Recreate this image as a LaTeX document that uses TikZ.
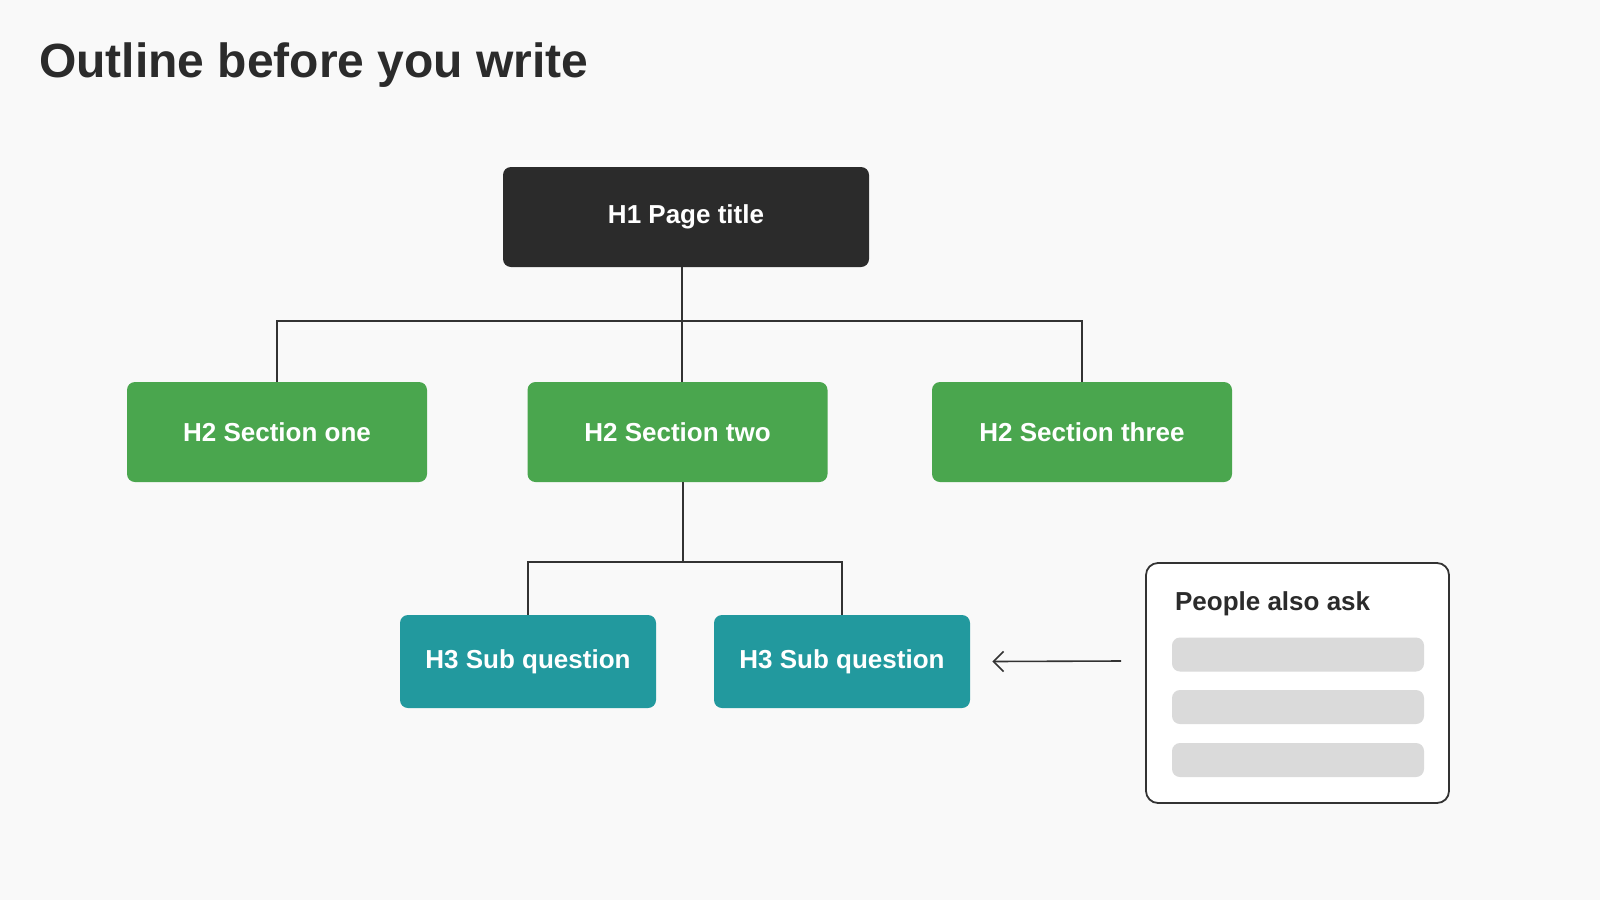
\documentclass[tikz,border=0pt]{standalone}
\usepackage{fontspec}
\setmainfont{Liberation Sans}
\usetikzlibrary{arrows.meta,positioning}
\definecolor{bgcol}{HTML}{F9F9F9}
\definecolor{darkbox}{HTML}{2B2B2B}
\definecolor{greenbox}{HTML}{4AA64E}
\definecolor{tealbox}{HTML}{22999E}
\definecolor{barcol}{HTML}{DADADA}
\definecolor{linecol}{HTML}{333333}
\tikzset{>={Straight Barb[length=5pt,width=10pt]},
  box/.style={rounded corners=4pt, text=white, font=\bfseries\fontsize{13}{16}\selectfont, inner sep=0pt},
  h2/.style={box, fill=greenbox, minimum width=150pt, minimum height=50pt},
  h3/.style={box, fill=tealbox, minimum width=128pt, minimum height=46.5pt},
  conn/.style={draw=linecol, line width=0.8pt},
  bar/.style={fill=barcol, rounded corners=4pt, minimum width=126pt, minimum height=17pt, inner sep=0pt}
}
\begin{document}
\begin{tikzpicture}[x=0.5pt, y=-0.5pt]
		\fill[bgcol] (0,0) rectangle (1600,900);
		\useasboundingbox (0,0) rectangle (1600,900);
		\node[anchor=west, text=darkbox, font=\bfseries\fontsize{24}{28}\selectfont] (title) at (32,65) {Outline before you write};

		\node[box, fill=darkbox, minimum width=183pt, minimum height=50pt] (h1) at (686,217) {H1 Page title};

		\node[h2] (sec-one)   at (277,432)  {H2 Section one};
		\node[h2] (sec-two)   at (677.5,432) {H2 Section two};
		\node[h2] (sec-three) at (1082,432) {H2 Section three};

		\coordinate (split-h2) at (682,321);
		\draw[conn] (h1.south -| split-h2) -- (split-h2);
		\draw[conn] (sec-one.north) |- (split-h2);
		\draw[conn] (sec-three.north) |- (split-h2);
		\draw[conn] (sec-two.north -| split-h2) -- (split-h2);

		\node[h3] (sub-a) at (528,661.5) {H3 Sub question};
		\node[h3] (sub-b) at (842,661.5) {H3 Sub question};

		\coordinate (split-h3) at (683,562);
		\draw[conn] (sec-two.south -| split-h3) -- (split-h3);
		\draw[conn] (sub-a.north) |- (split-h3);
		\draw[conn] (sub-b.north) |- (split-h3);

		\node[draw=linecol, fill=white, line width=0.9pt, rounded corners=6pt, minimum width=151.5pt, minimum height=120pt] (paa) at (1297.5,683) {};
		\node[anchor=west, text=darkbox, font=\bfseries\fontsize{13}{16}\selectfont] (paa-title) at (1168,604) {People also ask};
		\node[bar] (bar-1) at (1298,654.5) {};
		\node[bar] (bar-2) at (1298,707) {};
		\node[bar] (bar-3) at (1298,760) {};

		\coordinate (arrow-start) at (1121,661);
		\draw[conn, ->] (arrow-start) -- ([xshift=11pt]sub-b.east);
	\end{tikzpicture}
\end{document}
